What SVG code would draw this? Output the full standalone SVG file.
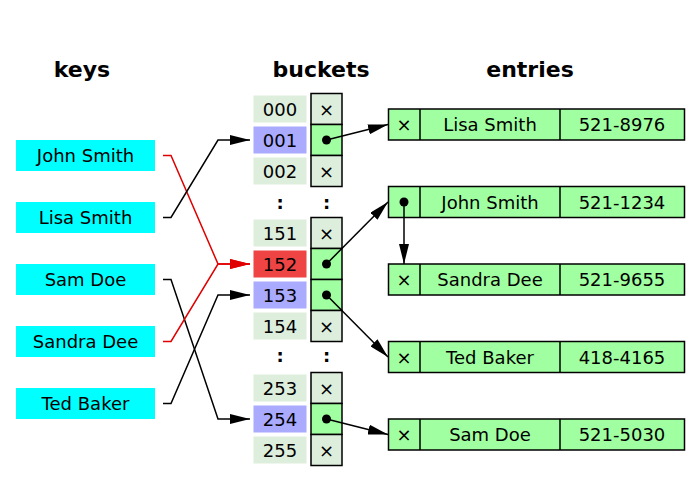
<svg xmlns="http://www.w3.org/2000/svg" width="700" height="482" viewBox="0 0 700 482">
<defs>
<style>
text{font-family:"DejaVu Sans","Noto Sans",sans-serif;font-size:18px;text-anchor:middle;fill:#000}
.h{font-weight:bold;font-size:22px}
.key{fill:#00ffff}
.hash{fill:#ddeedd}
.sel{fill:#aaaaff}
.hot{fill:#ee4444}
.cell{fill:#ddeedd;stroke:#000;stroke-width:1.5}
.ptr{fill:#a0ffa0;stroke:#000;stroke-width:1.5}
.ent{fill:#a0ffa0;stroke:#000;stroke-width:1.5}
.sep{stroke:#000;stroke-width:1.5}
.ln{fill:none;stroke:#000;stroke-width:1.5}
.red{fill:none;stroke:#e00000;stroke-width:1.5}
.dot{fill:#000}
.dd{font-weight:bold}
</style>
<marker id="ab" markerUnits="userSpaceOnUse" markerWidth="20" markerHeight="10" refX="20" refY="5" orient="auto"><path d="M0,0 L20,5 L0,10 z" fill="#000"/></marker>
<marker id="ar" markerUnits="userSpaceOnUse" markerWidth="20" markerHeight="10" refX="20" refY="5" orient="auto"><path d="M0,0 L20,5 L0,10 z" fill="#e00000"/></marker>
</defs>
<rect width="700" height="482" fill="#fff"/>
<g id="headers">
<text class="h" x="82" y="77">keys</text>
<text class="h" x="321" y="77">buckets</text>
<text class="h" x="530" y="77">entries</text>
</g>
<g id="key-john"><rect class="key" x="16" y="140" width="139" height="31"/><text x="85.5" y="162">John Smith</text></g>
<g id="key-lisa"><rect class="key" x="16" y="202" width="139" height="31"/><text x="85.5" y="224">Lisa Smith</text></g>
<g id="key-sam"><rect class="key" x="16" y="264" width="139" height="31"/><text x="85.5" y="286">Sam Doe</text></g>
<g id="key-sandra"><rect class="key" x="16" y="326" width="139" height="31"/><text x="85.5" y="348">Sandra Dee</text></g>
<g id="key-ted"><rect class="key" x="16" y="388" width="139" height="31"/><text x="85.5" y="410">Ted Baker</text></g>

<g id="bucket-000"><rect class="hash" x="253.5" y="95.5" width="53" height="27"/><text x="280" y="115.5">000</text><rect class="cell" x="311" y="93.5" width="31" height="31"/><text x="326.5" y="115.5">×</text></g>
<g id="bucket-001"><rect class="sel" x="253.5" y="126.5" width="53" height="27"/><text x="280" y="146.5">001</text><rect class="ptr" x="311" y="124.5" width="31" height="31"/><circle class="dot" cx="326.5" cy="140" r="4.5"/></g>
<g id="bucket-002"><rect class="hash" x="253.5" y="157.5" width="53" height="27"/><text x="280" y="177.5">002</text><rect class="cell" x="311" y="155.5" width="31" height="31"/><text x="326.5" y="177.5">×</text></g>
<g id="gap-1"><text class="dd" x="280" y="209">:</text><text class="dd" x="326.5" y="209">:</text></g>
<g id="bucket-151"><rect class="hash" x="253.5" y="219.5" width="53" height="27"/><text x="280" y="239.5">151</text><rect class="cell" x="311" y="217.5" width="31" height="31"/><text x="326.5" y="239.5">×</text></g>
<g id="bucket-152"><rect class="hot" x="253.5" y="250.5" width="53" height="27"/><text x="280" y="270.5">152</text><rect class="ptr" x="311" y="248.5" width="31" height="31"/><circle class="dot" cx="326.5" cy="264" r="4.5"/></g>
<g id="bucket-153"><rect class="sel" x="253.5" y="281.5" width="53" height="27"/><text x="280" y="301.5">153</text><rect class="ptr" x="311" y="279.5" width="31" height="31"/><circle class="dot" cx="326.5" cy="295" r="4.5"/></g>
<g id="bucket-154"><rect class="hash" x="253.5" y="312.5" width="53" height="27"/><text x="280" y="332.5">154</text><rect class="cell" x="311" y="310.5" width="31" height="31"/><text x="326.5" y="332.5">×</text></g>
<g id="gap-2"><text class="dd" x="280" y="362">:</text><text class="dd" x="326.5" y="362">:</text></g>
<g id="bucket-253"><rect class="hash" x="253.5" y="374.5" width="53" height="27"/><text x="280" y="394.5">253</text><rect class="cell" x="311" y="372.5" width="31" height="31"/><text x="326.5" y="394.5">×</text></g>
<g id="bucket-254"><rect class="sel" x="253.5" y="405.5" width="53" height="27"/><text x="280" y="425.5">254</text><rect class="ptr" x="311" y="403.5" width="31" height="31"/><circle class="dot" cx="326.5" cy="419" r="4.5"/></g>
<g id="bucket-255"><rect class="hash" x="253.5" y="436.5" width="53" height="27"/><text x="280" y="456.5">255</text><rect class="cell" x="311" y="434.5" width="31" height="31"/><text x="326.5" y="456.5">×</text></g>

<g id="entry-lisa"><rect class="ent" x="388.5" y="109" width="296" height="31"/><line class="sep" x1="420" y1="109" x2="420" y2="140"/><line class="sep" x1="560" y1="109" x2="560" y2="140"/><text x="404" y="131">×</text><text x="490" y="131">Lisa Smith</text><text x="622" y="131">521-8976</text></g>
<g id="entry-john"><rect class="ent" x="388.5" y="186.5" width="296" height="31"/><line class="sep" x1="420" y1="186.5" x2="420" y2="217.5"/><line class="sep" x1="560" y1="186.5" x2="560" y2="217.5"/><circle class="dot" cx="404" cy="202" r="4.5"/><text x="490" y="208.5">John Smith</text><text x="622" y="208.5">521-1234</text></g>
<g id="entry-sandra"><rect class="ent" x="388.5" y="264" width="296" height="31"/><line class="sep" x1="420" y1="264" x2="420" y2="295"/><line class="sep" x1="560" y1="264" x2="560" y2="295"/><text x="404" y="286">×</text><text x="490" y="286">Sandra Dee</text><text x="622" y="286">521-9655</text></g>
<g id="entry-ted"><rect class="ent" x="388.5" y="341.5" width="296" height="31"/><line class="sep" x1="420" y1="341.5" x2="420" y2="372.5"/><line class="sep" x1="560" y1="341.5" x2="560" y2="372.5"/><text x="404" y="363.5">×</text><text x="490" y="363.5">Ted Baker</text><text x="622" y="363.5">418-4165</text></g>
<g id="entry-sam"><rect class="ent" x="388.5" y="419" width="296" height="31"/><line class="sep" x1="420" y1="419" x2="420" y2="450"/><line class="sep" x1="560" y1="419" x2="560" y2="450"/><text x="404" y="441">×</text><text x="490" y="441">Sam Doe</text><text x="622" y="441">521-5030</text></g>

<g id="connectors">
<polyline class="red" points="163,155.5 171,155.5 218,264 250,264" marker-end="url(#ar)"/>
<polyline class="ln" points="163,217.5 171,217.5 218,140 250,140" marker-end="url(#ab)"/>
<polyline class="ln" points="163,279.5 171,279.5 218,419 250,419" marker-end="url(#ab)"/>
<polyline class="red" points="163,341.5 171,341.5 218,264 250,264" marker-end="url(#ar)"/>
<polyline class="ln" points="163,403.5 171,403.5 218,295 250,295" marker-end="url(#ab)"/>
<line class="ln" x1="326.5" y1="140" x2="388" y2="124.5" marker-end="url(#ab)"/>
<line class="ln" x1="326.5" y1="264" x2="388" y2="202" marker-end="url(#ab)"/>
<line class="ln" x1="326.5" y1="295" x2="388" y2="357" marker-end="url(#ab)"/>
<line class="ln" x1="326.5" y1="419" x2="388" y2="434.5" marker-end="url(#ab)"/>
<line class="ln" x1="404" y1="202" x2="404" y2="264" marker-end="url(#ab)"/>
</g>
</svg>
